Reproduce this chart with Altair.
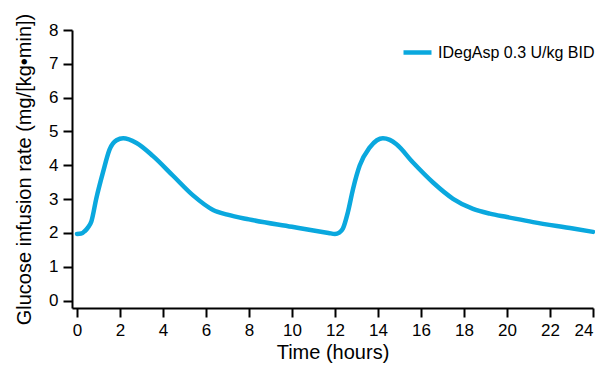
import altair as alt
import pandas as pd

series_name = "IDegAsp 0.3 U/kg BID"
hours = [0, 0.2, 0.36, 0.5, 0.67, 0.9, 1.21, 1.52, 1.84, 2.15, 2.77, 3.54, 4.47, 5.40, 6.33,
         7.0, 8.0, 10.0, 11.0, 11.7, 12.0, 12.2, 12.37, 12.6, 12.84, 13.15, 13.61, 13.95, 14.23,
         14.55, 14.86, 15.63, 16.56, 17.49, 18.42, 19.2, 20.0, 21.21, 23.07, 24.0]
gir = [1.97, 1.98, 2.05, 2.15, 2.34, 3.02, 3.79, 4.47, 4.74, 4.80, 4.66, 4.27, 3.69, 3.11, 2.68,
       2.54, 2.40, 2.18, 2.07, 2.0, 1.97, 2.01, 2.13, 2.61, 3.30, 3.99, 4.52, 4.74, 4.80,
       4.75, 4.62, 4.08, 3.49, 3.01, 2.71, 2.57, 2.47, 2.32, 2.13, 2.03]
x_ticks = list(range(0, 25, 2))
y_ticks = list(range(0, 9))

df = pd.DataFrame({"t": hours, "v": gir, "s": [series_name] * len(hours)})

FONT = "Liberation Sans"
BLUE = "#0AA8DE"

chart = alt.Chart(df).mark_line(interpolate="monotone", strokeWidth=4.5, strokeCap="round").encode(
    x=alt.X("t:Q", scale=alt.Scale(domain=[-0.23, 24], nice=False, zero=False),
            axis=alt.Axis(values=x_ticks, title="Time (hours)", format="d")),
    y=alt.Y("v:Q", scale=alt.Scale(domain=[-0.22, 8], nice=False, zero=False),
            axis=alt.Axis(values=y_ticks, title="Glucose infusion rate (mg/[kg•min])", format="d")),
    color=alt.Color("s:N", scale=alt.Scale(range=[BLUE]),
                    legend=alt.Legend(title=None, orient="none", legendX=329, legendY=6,
                                      symbolType="stroke", symbolSize=784, symbolStrokeWidth=4.5,
                                      labelFont=FONT, labelFontSize=16, labelColor="black",
                                      labelOffset=4)),
).properties(
    width=521, height=278,
    autosize=alt.AutoSizeParams(type="none"),
    padding={"left": 64, "top": 22, "right": 2, "bottom": 55},
).configure_view(stroke=None).configure_axis(
    grid=False, domainColor="black", domainWidth=2, tickColor="black", tickWidth=2,
    tickSize=9, labelFont=FONT, labelFontSize=17, labelColor="black", labelPadding=5,
    titleFont=FONT, titleFontSize=20, titleFontWeight="normal", titleColor="black",
).configure_axisX(titlePadding=4).configure_axisY(titlePadding=14, titleFontSize=20)

chart.save("out.html", embed_options={"renderer": "svg", "actions": False})
